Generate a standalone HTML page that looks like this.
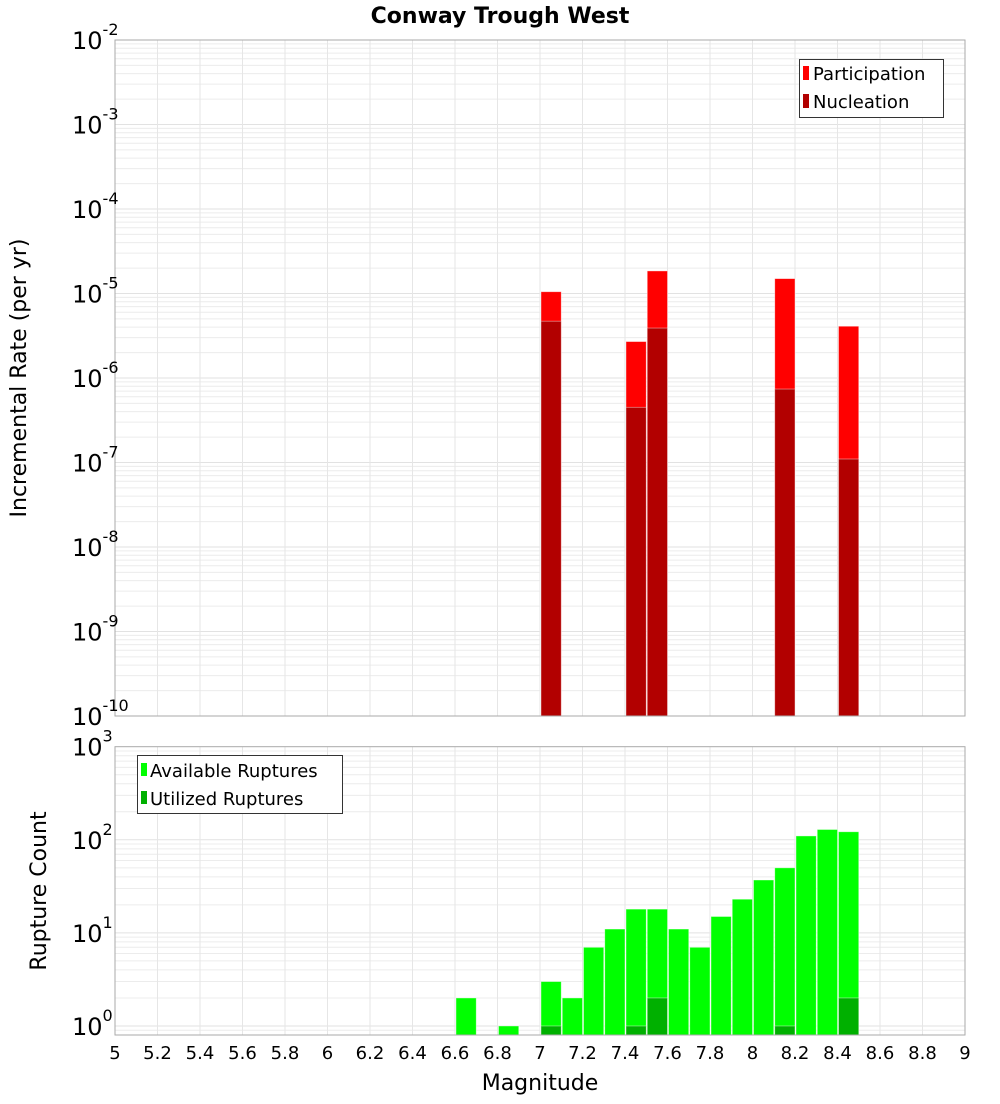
<!DOCTYPE html>
<html><head><meta charset="utf-8"><style>
body{margin:0;background:#fff;font-family:"DejaVu Sans","Liberation Sans",sans-serif;}
svg text{font-family:"DejaVu Sans","Liberation Sans",sans-serif;}
</style></head><body>
<svg id="c" width="1000" height="1100" xmlns="http://www.w3.org/2000/svg"></svg>
<script>
const binCenters = [6.65,6.85,7.05,7.15,7.25,7.35,7.45,7.55,7.65,7.75,7.85,7.95,8.05,8.15,8.25,8.35,8.45];
const availableCounts = [2,1,3,2,7,11,18,18,11,7,15,23,37,50,110,129,122];
const utilizedMags = [7.05,7.45,7.55,8.15,8.45];
const utilizedCounts = [1,1,2,1,2];
const rateMags = [7.05,7.45,7.55,8.15,8.45];
const participationRates = [1.05e-5,2.7e-6,1.85e-5,1.5e-5,4.1e-6];
const nucleationRates = [4.7e-6,4.5e-7,3.9e-6,7.4e-7,1.1e-7];
const xTicks = [5,5.2,5.4,5.6,5.8,6,6.2,6.4,6.6,6.8,7,7.2,7.4,7.6,7.8,8,8.2,8.4,8.6,8.8,9];
const xTickLabels = ["5","5.2","5.4","5.6","5.8","6","6.2","6.4","6.6","6.8","7","7.2","7.4","7.6","7.8","8","8.2","8.4","8.6","8.8","9"];
const topExps = [-2,-3,-4,-5,-6,-7,-8,-9,-10];
const botExps = [3,2,1,0];

const NS="http://www.w3.org/2000/svg";
const svg=document.getElementById('c');
function mk(tag,attrs,parent){const e=document.createElementNS(NS,tag);for(const k in attrs)e.setAttribute(k,attrs[k]);(parent||svg).appendChild(e);return e;}
const X0=115,X1=965,XMIN=5,XMAX=9;
const xs=v=>X0+(v-XMIN)/(XMAX-XMIN)*(X1-X0);
const T={y0:40,y1:716,lmin:-10,lmax:-2};
const B={y0:746.7,y1:1035,lmin:Math.log10(0.8),lmax:3};
const ys=(P,v)=>P.y1-(Math.log10(v)-P.lmin)/(P.lmax-P.lmin)*(P.y1-P.y0);

function panel(P,name){
  const g=mk('g',{});
  
  
  for(let d=Math.floor(P.lmin);d<P.lmax;d++){
    for(let m=1;m<10;m++){const v=m*Math.pow(10,d);const l=Math.log10(v);if(l<P.lmin-1e-9||l>P.lmax+1e-9)continue;
      const y=ys(P,v);mk('line',{x1:X0,x2:X1,y1:y,y2:y,stroke:m==1?'#e2e2e2':'#ececec','stroke-width':1},g);}
  }
  xTicks.forEach(t=>{const x=xs(t);mk('line',{x1:x,x2:x,y1:P.y0,y2:P.y1,stroke:'#e6e6e6','stroke-width':1},g);});
}
function frame(P,name){const r=mk('rect',{x:X0,y:P.y0,width:X1-X0,height:P.y1-P.y0,fill:'none',stroke:'#aaa','stroke-width':1});
  }
function bar(P,c,v,fill,name){const x=xs(c-0.05)+1,w=xs(c+0.05)-xs(c-0.05)-1;const y=ys(P,v);
  const r=mk('rect',{x:x,y:y,width:w,height:P.y1-y,fill:fill,stroke:'#fff','stroke-opacity':0.5,'stroke-width':0.8});
  }
function ylab(P,e,name){const y=ys(P,Math.pow(10,e));
  const t=mk('text',{x:112,y:y+9,'text-anchor':'end','font-size':24,fill:'#000'});
  
  t.appendChild(document.createTextNode('10'));
  const s=mk('tspan',{dy:-14,'font-size':16},t);s.textContent=String(e);
  // shift so base sits left
  t.setAttribute('x',112 - (String(e).length*9));
  t.setAttribute('text-anchor','end');
  // reposition: base ends ~ at 104, exponent after
  t.removeAttribute('text-anchor');
  t.setAttribute('x',72);
}

panel(T,'top');panel(B,'bottom');
rateMags.forEach((m,i)=>{bar(T,m,participationRates[i],'#ff0000','participation-bar');});
rateMags.forEach((m,i)=>{bar(T,m,nucleationRates[i],'#b20000','nucleation-bar');});
binCenters.forEach((m,i)=>{bar(B,m,availableCounts[i],'#00ff00','available-bar');});
utilizedMags.forEach((m,i)=>{bar(B,m,utilizedCounts[i],'#00b000','utilized-bar');});
frame(T,'top-plot');frame(B,'bottom-plot');
topExps.forEach(e=>ylab(T,e,'top-y-tick'));
botExps.forEach(e=>ylab(B,e,'bottom-y-tick'));
xTicks.forEach((t,i)=>{const tx=mk('text',{x:xs(t),y:1059,'text-anchor':'middle','font-size':18,fill:'#000'});
  tx.textContent=xTickLabels[i];});
</script>
<svg width="1000" height="1100" style="position:absolute;left:0;top:0" xmlns="http://www.w3.org/2000/svg">
<text x="500" y="23" text-anchor="middle" font-size="22" font-weight="bold">Conway Trough West</text>
<text x="540" y="1090" text-anchor="middle" font-size="22">Magnitude</text>
<text transform="translate(26,378) rotate(-90)" text-anchor="middle" font-size="22">Incremental Rate (per yr)</text>
<text transform="translate(46,891) rotate(-90)" text-anchor="middle" font-size="22">Rupture Count</text>
<g>
<rect x="799.5" y="59.5" width="144" height="58" fill="#fff" stroke="#333"/>
<rect x="803" y="66" width="6" height="14" fill="#ff0000"/>
<text x="813" y="80" font-size="18">Participation</text>
<rect x="803" y="94" width="6" height="14" fill="#b20000"/>
<text x="813" y="108" font-size="18">Nucleation</text>
</g>
<g>
<rect x="137.5" y="755.5" width="205" height="58" fill="#fff" stroke="#333"/>
<rect x="141" y="763" width="6" height="13" fill="#00ff00"/>
<text x="150" y="777" font-size="18">Available Ruptures</text>
<rect x="141" y="791" width="6" height="13" fill="#00b000"/>
<text x="150" y="805" font-size="18">Utilized Ruptures</text>
</g>
</svg>
</body></html>
